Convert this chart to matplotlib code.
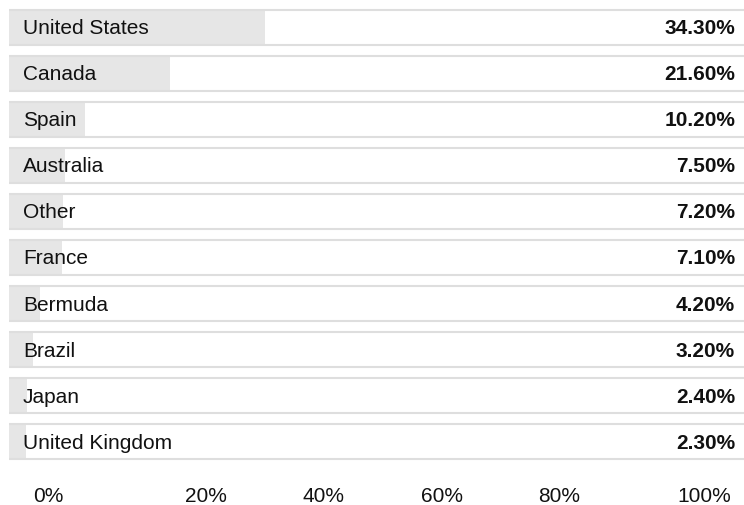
import matplotlib.pyplot as plt
import matplotlib.transforms as mtransforms

countries = [
    "United States", "Canada", "Spain", "Australia", "Other",
    "France", "Bermuda", "Brazil", "Japan", "United Kingdom",
]
shares = [34.3, 21.6, 10.2, 7.5, 7.2, 7.1, 4.2, 3.2, 2.4, 2.3]
tick_labels = ["0%", "20%", "40%", "60%", "80%", "100%"]

plt.rcParams["font.family"] = ["Liberation Sans", "DejaVu Sans"]

W, H = 744, 505
fig = plt.figure(figsize=(W / 100, H / 100), dpi=100)

# rows: 46 px pitch, 35 px tall, first row top at y=10
pitch = 46.0
row_h = 35.0 / pitch
top_px, left_px = 10, 9
n = len(countries)
bottom_px = top_px + (n - 1) * pitch + 35
ax = fig.add_axes([left_px / W, 1 - bottom_px / H,
                   (W - left_px) / W, (bottom_px - top_px) / H])

px_per_pct = 7.47
ax.set_xlim(0, (W - left_px) / px_per_pct)
ax.set_ylim(n - 1 + row_h / 2, -row_h / 2)
ax.axis("off")

ypos = list(range(n))
ax.barh(ypos, shares, height=row_h, color="#e6e6e6", linewidth=0, zorder=1)

xmax = ax.get_xlim()[1]
for y in ypos:
    for edge in (y - row_h / 2, y + row_h / 2):
        ax.plot([0, xmax], [edge, edge], color="#dedede", lw=1.5,
                solid_capstyle="butt", zorder=2, clip_on=False)

trans = mtransforms.blended_transform_factory(ax.transAxes, ax.transData)
for y, name, val in zip(ypos, countries, shares):
    ax.annotate(name, xy=(0, y), xycoords=trans, xytext=(14, -7),
                textcoords="offset pixels", ha="left", va="baseline",
                fontsize=15, color="#111111", zorder=3)
    ax.annotate(f"{val:.2f}%", xy=(1, y), xycoords=trans, xytext=(-9, -7),
                textcoords="offset pixels", ha="right", va="baseline",
                fontsize=15, fontweight="bold", color="#111111", zorder=3)

# axis labels along the bottom
tick_x = [48, 206, 323.5, 441.5, 559.5, 704.5]
for x, lab in zip(tick_x, tick_labels):
    fig.text(x / W, (H - 502) / H, lab, ha="center", va="baseline",
             fontsize=15, color="#111111")

fig.savefig("out.png", dpi=100)
